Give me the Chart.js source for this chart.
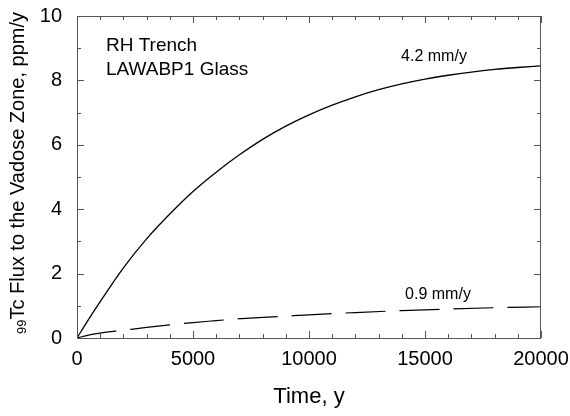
<!DOCTYPE html>
<html>
<head>
<meta charset="utf-8">
<script src="https://cdn.jsdelivr.net/npm/chart.js@4"></script>
<style>
  html, body { margin: 0; padding: 0; background: #fff; }
  #wrap { width: 570px; height: 416px; }
</style>
</head>
<body>
<div id="wrap"><canvas id="fluxChart" width="570" height="416"></canvas></div>
<script>
// time in years
const timeHigh = [0, 500, 1000, 2000, 3000, 4000, 5000, 6000, 7000, 8000, 9000, 10000,
  11000, 12000, 13000, 14000, 15000, 16000, 17000, 18000, 19000, 20000];
// 4.2 mm/y recharge, ppm/y
const fluxHigh = [0, 0.58, 1.13, 2.18, 3.08, 3.85, 4.55, 5.15, 5.69, 6.17, 6.58, 6.93,
  7.23, 7.49, 7.71, 7.89, 8.04, 8.16, 8.26, 8.34, 8.4, 8.45];

const timeLow = [0, 500, 1000, 2000, 3000, 4000, 5000, 6000, 7000, 8000, 9000, 10000,
  12000, 14000, 16000, 18000, 20000];
// 0.9 mm/y recharge
const fluxLow = [0, 0.09, 0.15, 0.24, 0.33, 0.41, 0.48, 0.54, 0.6, 0.64, 0.68, 0.72,
  0.79, 0.85, 0.9, 0.94, 0.97];

const xTicks = [0, 5000, 10000, 15000, 20000];
const yTicks = [0, 2, 4, 6, 8, 10];

const FONT = "Arial, 'Liberation Sans', sans-serif";

// box, inward ticks, annotations and the y title with subscript
const framePlugin = {
  id: "frame",
  afterDraw(chart) {
    const ctx = chart.ctx;
    const a = chart.chartArea;
    const xs = chart.scales.x, ys = chart.scales.y;
    ctx.save();
    ctx.strokeStyle = "#555";
    ctx.lineWidth = 1;
    ctx.strokeRect(a.left + 0.5, a.top + 0.5, a.right - a.left - 1, a.bottom - a.top);

    ctx.beginPath();
    for (let t = 0; t <= 20000; t += 1000) {
      const px = Math.round(xs.getPixelForValue(t)) + 0.5;
      const len = t % 5000 === 0 ? 7 : 4;
      ctx.moveTo(px, a.bottom); ctx.lineTo(px, a.bottom - len);
      ctx.moveTo(px, a.top); ctx.lineTo(px, a.top + len);
    }
    for (let v = 0; v <= 10; v += 1) {
      const py = Math.round(ys.getPixelForValue(v)) + 0.5;
      const len = v % 2 === 0 ? 7 : 4;
      ctx.moveTo(a.left, py); ctx.lineTo(a.left + len, py);
      ctx.moveTo(a.right, py); ctx.lineTo(a.right - len, py);
    }
    ctx.stroke();

    ctx.fillStyle = "#000";
    ctx.font = "19px " + FONT;
    ctx.textBaseline = "middle";
    ctx.textAlign = "left";
    ctx.fillText("RH Trench", 106, 46);
    ctx.fillText("LAWABP1 Glass", 106, 70);

    ctx.font = "16px " + FONT;
    ctx.textAlign = "center";
    ctx.fillText("4.2 mm/y", 434, 57);
    ctx.fillText("0.9 mm/y", 438, 295);

    // rotated y title: small 99 then text
    ctx.translate(24, 0);
    ctx.rotate(-Math.PI / 2);
    const main = "Tc Flux to the Vadose Zone, ppm/y";
    ctx.font = "20px " + FONT;
    const wMain = ctx.measureText(main).width;
    ctx.font = "13px " + FONT;
    const wSub = ctx.measureText("99").width;
    const total = wSub + wMain;
    const start = -173 - total / 2;
    ctx.textAlign = "left";
    ctx.textBaseline = "alphabetic";
    ctx.fillText("99", start, 2);
    ctx.font = "20px " + FONT;
    ctx.fillText(main, start + wSub, 0);
    ctx.restore();
  }
};

new Chart(document.getElementById("fluxChart"), {
  type: "line",
  data: {
    datasets: [
      {
        label: "4.2 mm/y",
        data: timeHigh.map((t, i) => ({ x: t, y: fluxHigh[i] })),
        borderColor: "#000",
        borderWidth: 1.3,
        pointRadius: 0,
        cubicInterpolationMode: "monotone"
      },
      {
        label: "0.9 mm/y",
        data: timeLow.map((t, i) => ({ x: t, y: fluxLow[i] })),
        borderColor: "#000",
        borderWidth: 1.2,
        borderDash: [40, 14],
        pointRadius: 0,
        cubicInterpolationMode: "monotone"
      }
    ]
  },
  options: {
    responsive: false,
    animation: false,
    layout: { padding: { top: 16, right: 29, left: 0, bottom: 0 } },
    plugins: { legend: { display: false }, tooltip: { enabled: false } },
    scales: {
      x: {
        type: "linear",
        min: 0, max: 20000,
        afterBuildTicks: (s) => { s.ticks = xTicks.map((v) => ({ value: v })); },
        afterFit: (s) => { s.height = 78; s.paddingLeft = 0; s.paddingRight = 0; },
        grid: { display: false },
        border: { display: false },
        ticks: {
          color: "#000", font: { family: FONT, size: 20 }, padding: 1, maxRotation: 0,
          callback: (v) => String(v)
        },
        title: { display: true, text: "Time, y", color: "#000", font: { family: FONT, size: 22 }, padding: { top: 4, bottom: 6 } }
      },
      y: {
        min: 0, max: 10,
        afterBuildTicks: (s) => { s.ticks = yTicks.map((v) => ({ value: v })); },
        afterFit: (s) => { s.width = 77; s.paddingTop = 0; s.paddingBottom = 0; },
        grid: { display: false },
        border: { display: false },
        ticks: { color: "#000", font: { family: FONT, size: 20 }, padding: 7 }
      }
    }
  },
  plugins: [framePlugin]
});
</script>
</body>
</html>
